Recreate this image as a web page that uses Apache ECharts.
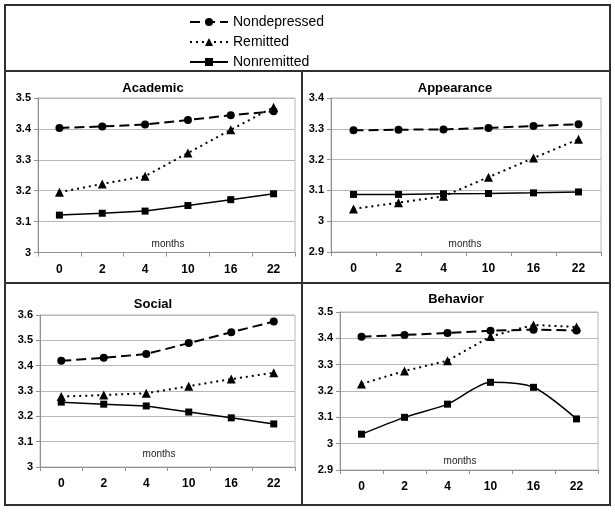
<!DOCTYPE html>
<html><head><meta charset="utf-8">
<script src="https://cdn.jsdelivr.net/npm/echarts@6/dist/echarts.min.js"></script>
<style>html,body{margin:0;padding:0;background:#fff;}#c{width:615px;height:512px;}</style>
</head><body><div id="c"></div>
<script>
var months = ['0', '2', '4', '10', '16', '22'];
var seriesNames = ['Nondepressed', 'Remitted', 'Nonremitted'];
var panelTitles = ['Academic', 'Appearance', 'Social', 'Behavior'];
var xAxisName = 'months';

var academicNondep = [3.403, 3.408, 3.414, 3.429, 3.444, 3.457];
var academicRemit = [3.195, 3.222, 3.247, 3.322, 3.397, 3.470];
var academicNonrem = [3.121, 3.127, 3.134, 3.152, 3.171, 3.190];

var appearanceNondep = [3.295, 3.297, 3.298, 3.303, 3.309, 3.315];
var appearanceRemit = [3.040, 3.060, 3.081, 3.143, 3.205, 3.266];
var appearanceNonrem = [3.087, 3.087, 3.089, 3.090, 3.092, 3.095];

var socialNondep = [3.419, 3.431, 3.446, 3.489, 3.532, 3.574];
var socialRemit = [3.278, 3.284, 3.291, 3.319, 3.347, 3.372];
var socialNonrem = [3.256, 3.248, 3.241, 3.217, 3.194, 3.170];

var behaviorNondep = [3.406, 3.413, 3.420, 3.429, 3.433, 3.430];
var behaviorRemit = [3.227, 3.276, 3.315, 3.407, 3.451, 3.443];
var behaviorNonrem = [3.036, 3.100, 3.150, 3.233, 3.214, 3.094];

var yMins = [3.0, 2.9, 3.0, 2.9];
var yMaxs = [3.5, 3.4, 3.6, 3.5];

var panelData = [
  [academicNondep, academicRemit, academicNonrem],
  [appearanceNondep, appearanceRemit, appearanceNonrem],
  [socialNondep, socialRemit, socialNonrem],
  [behaviorNondep, behaviorRemit, behaviorNonrem]
];

var FONT = 'Liberation Sans, Arial, sans-serif';
var grids = [
  {left: 38, top: 98, width: 257, height: 154.5},
  {left: 331, top: 98, width: 270, height: 154},
  {left: 40, top: 315, width: 255, height: 152},
  {left: 340, top: 312, width: 258, height: 158}
];
var titlePos = [[153, 88], [455, 88], [153, 304], [456, 299]];
var monthsPos = [[168, 244], [465, 244], [159, 454], [460, 461]];

var styles = [
  {symbol: 'circle', symbolSize: 8, lineStyle: {type: [10, 5], width: 2, color: '#000'}},
  {symbol: 'triangle', symbolSize: 9, lineStyle: {type: [2, 4], width: 2, color: '#000'}},
  {symbol: 'rect', symbolSize: 7, lineStyle: {type: 'solid', width: 1.5, color: '#000'}}
];

var xAxes = [], yAxes = [], series = [], graphics = [];
grids.forEach(function (g, i) {
  g.show = true; g.borderColor = '#b8b8b8'; g.borderWidth = 1; g.backgroundColor = '#fff';
  xAxes.push({
    type: 'category', gridIndex: i, data: months, boundaryGap: true,
    axisLine: {lineStyle: {color: '#909090', width: 1}},
    axisTick: {show: true, inside: false, length: 4, lineStyle: {color: '#909090'}},
    axisLabel: {color: '#000', fontWeight: 'bold', fontSize: 12, fontFamily: FONT, margin: 11},
    splitLine: {show: false}
  });
  yAxes.push({
    type: 'value', gridIndex: i, min: yMins[i], max: yMaxs[i], interval: 0.1,
    axisLine: {show: true, lineStyle: {color: '#909090', width: 1}},
    axisTick: {show: true, length: 4, lineStyle: {color: '#909090'}},
    axisLabel: {color: '#000', fontWeight: 'bold', fontSize: 11, fontFamily: FONT, margin: 7,
      formatter: function (v) { return String(Math.round(v * 10) / 10); }},
    splitLine: {show: true, lineStyle: {color: '#b8b8b8', width: 1}}
  });
  panelData[i].forEach(function (d, k) {
    series.push({
      name: seriesNames[k], type: 'line', xAxisIndex: i, yAxisIndex: i, data: d,
      symbol: styles[k].symbol, symbolSize: styles[k].symbolSize,
      itemStyle: {color: '#000'}, lineStyle: styles[k].lineStyle,
      smooth: (i === 3 && k === 2) ? 0.25 : false,
      animation: false, z: 3 + k
    });
  });
  graphics.push({type: 'text', x: titlePos[i][0], y: titlePos[i][1],
    style: {text: panelTitles[i], font: 'bold 13px ' + FONT, fill: '#000', textAlign: 'center', textVerticalAlign: 'middle'}});
  graphics.push({type: 'text', x: monthsPos[i][0], y: monthsPos[i][1], z: 10,
    style: {text: xAxisName, font: '10px ' + FONT, fill: '#222', textAlign: 'center', textVerticalAlign: 'middle'}});
});

// frames
var frameStyle = {stroke: '#303030', lineWidth: 2, fill: null};
graphics.push({type: 'rect', shape: {x: 5, y: 5, width: 605, height: 500}, style: frameStyle, z: 20});
graphics.push({type: 'line', shape: {x1: 5, y1: 71, x2: 610, y2: 71}, style: frameStyle, z: 20});
graphics.push({type: 'line', shape: {x1: 5, y1: 283, x2: 610, y2: 283}, style: frameStyle, z: 20});
graphics.push({type: 'line', shape: {x1: 302, y1: 71, x2: 302, y2: 505}, style: frameStyle, z: 20});

var option = {
  backgroundColor: '#fff',
  animation: false,
  legend: {
    data: seriesNames, orient: 'vertical', left: 184, top: 10,
    itemWidth: 38, itemHeight: 10, itemGap: 6,
    textStyle: {fontSize: 14, fontFamily: FONT, color: '#000'}
  },
  grid: grids, xAxis: xAxes, yAxis: yAxes, series: series,
  graphic: graphics
};
var chart = echarts.init(document.getElementById('c'), null, {renderer: 'canvas'});
chart.setOption(option);
</script></body></html>
